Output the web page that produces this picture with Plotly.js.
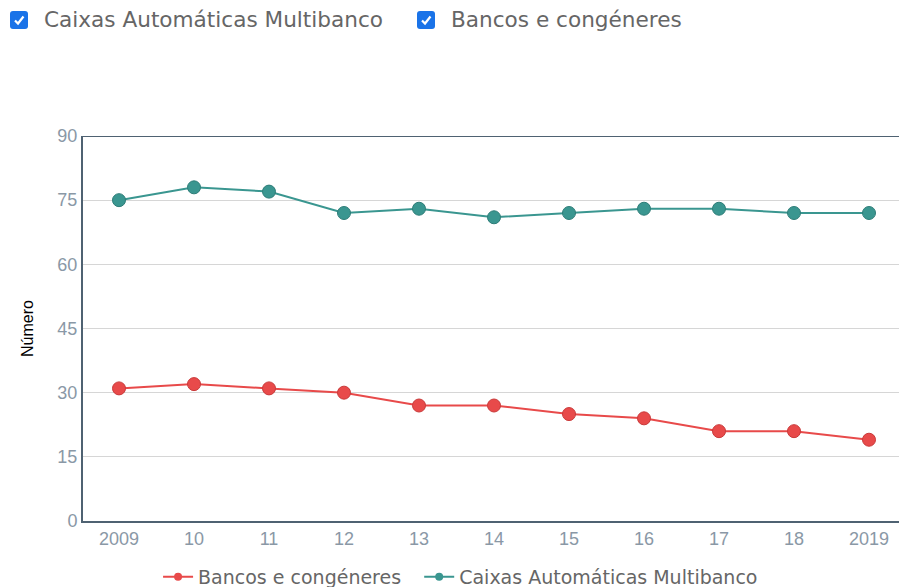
<!DOCTYPE html>
<html><head><meta charset="utf-8">
<script src="https://cdn.plot.ly/plotly-3.0.1.min.js"></script>
<style>
html,body{margin:0;padding:0;background:#fff;overflow:hidden;}
#wrap{position:relative;width:899px;height:587px;overflow:hidden;}
#chart{position:absolute;left:0;top:0;width:899px;height:600px;}
.cb{position:absolute;top:7px;font-family:"DejaVu Sans",Verdana,sans-serif;font-size:21.6px;color:#666;display:flex;align-items:center;z-index:2}
.box{width:18px;height:18px;border-radius:3px;background:#1a73e8;display:inline-flex;align-items:center;justify-content:center;margin-right:16px;}
</style></head>
<body><div id="wrap">
<div id="chart"></div>
<div class="cb" style="left:10px"><span class="box"><svg width="12" height="12" viewBox="0 0 12 12"><path d="M2 6.5 L5 9.5 L10.5 2.5" stroke="#fff" stroke-width="2.2" fill="none"/></svg></span>Caixas Automáticas Multibanco</div>
<div class="cb" style="left:417px"><span class="box"><svg width="12" height="12" viewBox="0 0 12 12"><path d="M2 6.5 L5 9.5 L10.5 2.5" stroke="#fff" stroke-width="2.2" fill="none"/></svg></span>Bancos e congéneres</div>
</div>
<script>
const years = ["2009","10","11","12","13","14","15","16","17","18","2019"];
const bancos = [31,32,31,30,27,27,25,24,21,21,19];
const caixas = [75,78,77,72,73,71,72,73,73,72,72];
const yTicks = [0,15,30,45,60,75,90];
const seriesNames = ["Bancos e congéneres", "Caixas Automáticas Multibanco"];
const red = "#e84a4a", teal = "#3a9690";

const traces = [
  {x: years, y: bancos, name: seriesNames[0], type: "scatter", mode: "lines+markers", showlegend: false,
   line: {color: red, width: 2}, marker: {color: red, size: 13, line: {color: "#c93a3a", width: 1}}},
  {x: years, y: caixas, name: seriesNames[1], type: "scatter", mode: "lines+markers", showlegend: false,
   line: {color: teal, width: 2}, marker: {color: teal, size: 13, line: {color: "#2e7d78", width: 1}}},
  {x: [null], y: [null], name: seriesNames[0], type: "scatter", mode: "lines+markers", legend: "legend",
   line: {color: red, width: 2}, marker: {color: red, size: 8}},
  {x: [null], y: [null], name: seriesNames[1], type: "scatter", mode: "lines+markers", legend: "legend2",
   line: {color: teal, width: 2}, marker: {color: teal, size: 8}}
];
const legFont = {family: "DejaVu Sans, Verdana, sans-serif", size: 19, color: "#666"};
const layout = {
  width: 899, height: 600,
  margin: {l: 83, r: 0, t: 136, b: 79},
  paper_bgcolor: "#fff", plot_bgcolor: "#fff",
  showlegend: true,
  legend: {orientation: "h", x: 0.092, xanchor: "left", y: -0.145, yanchor: "middle", font: legFont, itemwidth: 30},
  legend2: {orientation: "h", x: 0.412, xanchor: "left", y: -0.145, yanchor: "middle", font: legFont, itemwidth: 30},
  xaxis: {type: "category", range: [-0.48, 10.4], showgrid: false, showline: true, linecolor: "#4f6272", linewidth: 2,
          ticks: "", tickfont: {family: "Liberation Sans, Arial, sans-serif", size: 18, color: "#8a98a6"}, zeroline: false, fixedrange: true},
  yaxis: {range: [0, 90], tickvals: yTicks, showgrid: true, gridcolor: "#d6d6d6", gridwidth: 1,
          showline: true, linecolor: "#4f6272", linewidth: 2, zeroline: false, ticks: "",
          tickfont: {family: "Liberation Sans, Arial, sans-serif", size: 18, color: "#8a98a6"},
          title: {text: "Número", font: {family: "Liberation Sans, Arial, sans-serif", size: 16, color: "#000"}, standoff: 20}},
  shapes: [{type: "line", xref: "paper", yref: "y", x0: 0, x1: 1, y0: 90, y1: 90, line: {color: "#4f6272", width: 2}}]
};
Plotly.newPlot("chart", traces, layout, {displayModeBar: false, staticPlot: true});
</script>
</body></html>
